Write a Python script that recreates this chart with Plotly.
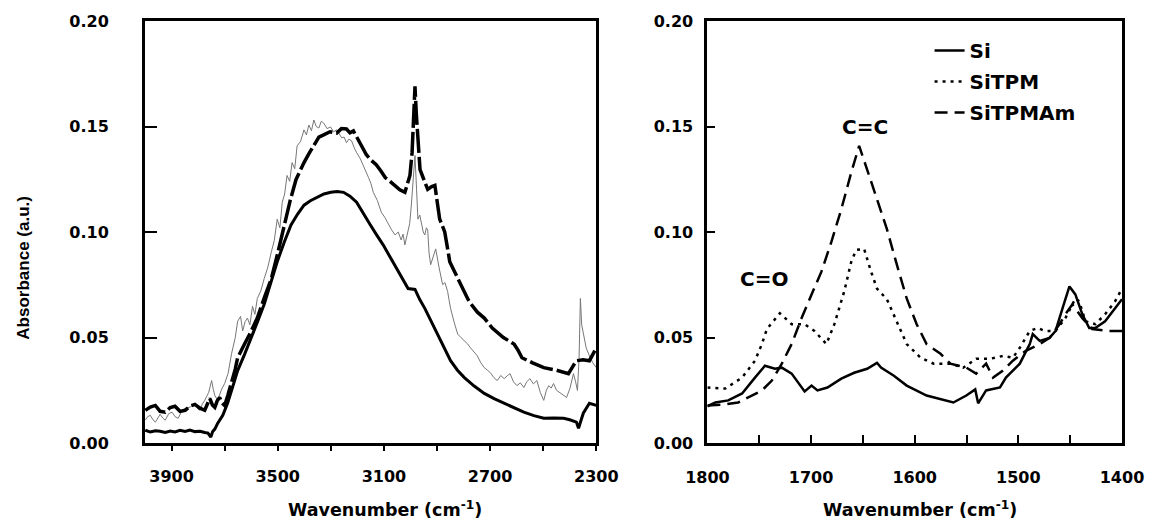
import plotly.graph_objects as go

# ---------------- Left panel data (wavenumber cm-1, absorbance) ----------------
L_SI_X = [3999, 3980, 3961, 3943, 3924, 3905, 3887, 3868, 3849, 3831, 3812, 3793, 3775, 3763,
          3752, 3745, 3737, 3726, 3707, 3689, 3670, 3651, 3625, 3599, 3575, 3551, 3526, 3502,
          3476, 3450, 3425, 3401, 3377, 3353, 3326, 3300, 3276, 3252, 3228, 3203, 3177, 3151,
          3127, 3103, 3073, 3040, 3009, 2983, 2965, 2946, 2922, 2898, 2873, 2849, 2823, 2797,
          2760, 2722, 2685, 2647, 2610, 2573, 2535, 2498, 2460, 2423, 2400, 2375, 2367, 2358,
          2349, 2326, 2300]
L_SI_Y = [0.0061, 0.0052, 0.0058, 0.0056, 0.0050, 0.0057, 0.0052, 0.0060, 0.0055, 0.0061, 0.0054, 0.0056, 0.0050, 0.0047,
          0.0028, 0.0055, 0.0066, 0.0094, 0.0131, 0.0188, 0.0265, 0.0343, 0.0420, 0.0498, 0.0578, 0.0657, 0.0760, 0.0859,
          0.0950, 0.1033, 0.1085, 0.1127, 0.1148, 0.1164, 0.1180, 0.1188, 0.1192, 0.1188, 0.1170, 0.1141, 0.1090, 0.1033,
          0.0985, 0.0939, 0.0873, 0.0800, 0.0732, 0.0728, 0.0680, 0.0638, 0.0578, 0.0516, 0.0450, 0.0390, 0.0345, 0.0310,
          0.0270, 0.0235, 0.0210, 0.0188, 0.0165, 0.0146, 0.0130, 0.0117, 0.0118, 0.0117, 0.0110, 0.0099, 0.0070, 0.0110,
          0.0141, 0.0188, 0.0178]

L_TPM_X = [3999, 3990, 3980, 3970, 3961, 3952, 3943, 3933, 3924, 3910, 3898, 3887, 3875, 3862, 3849, 3830,
           3812, 3800, 3793, 3784, 3775, 3760, 3749, 3743, 3737, 3726, 3713, 3700, 3687, 3674, 3660, 3651, 3640,
           3632, 3623, 3614, 3605, 3595, 3586, 3577, 3564, 3551, 3538, 3524, 3513, 3502, 3492, 3483, 3474, 3465,
           3455, 3446, 3436, 3427, 3414, 3401, 3392, 3383, 3373, 3364, 3355, 3345, 3336, 3327, 3314, 3301, 3290,
           3278, 3268, 3259, 3250, 3241, 3232, 3222, 3212, 3203, 3190, 3177, 3168, 3158, 3149, 3140, 3125, 3110,
           3097, 3084, 3071, 3058, 3046, 3035, 3028, 3021, 3015, 3009, 3003, 2998, 2990, 2983, 2977, 2972, 2965,
           2957, 2952, 2946, 2940, 2935, 2930, 2924, 2915, 2905, 2892, 2879, 2870, 2860, 2855, 2849, 2835, 2822,
           2810, 2797, 2785, 2774, 2760, 2748, 2735, 2722, 2710, 2699, 2686, 2673, 2660, 2647, 2636, 2625, 2612,
           2599, 2586, 2573, 2562, 2550, 2537, 2524, 2511, 2498, 2488, 2479, 2470, 2461, 2450, 2438, 2425, 2412,
           2399, 2386, 2378, 2371, 2365, 2360, 2355, 2349, 2338, 2326, 2313, 2300]
L_TPM_Y = [0.0108, 0.0125, 0.0131, 0.0110, 0.0099, 0.0120, 0.0136, 0.0118, 0.0108, 0.0140, 0.0146, 0.0125, 0.0117, 0.0150, 0.0164, 0.0170,
           0.0188, 0.0160, 0.0155, 0.0185, 0.0202, 0.0240, 0.0296, 0.0255, 0.0225, 0.0202, 0.0250, 0.0282, 0.0330, 0.0423, 0.0500, 0.0577, 0.0600,
           0.0531, 0.0575, 0.0592, 0.0560, 0.0648, 0.0610, 0.0685, 0.0720, 0.0779, 0.0830, 0.0906, 0.0960, 0.1061, 0.1020, 0.1141, 0.1180, 0.1268,
           0.1240, 0.1329, 0.1300, 0.1408, 0.1430, 0.1484, 0.1460, 0.1507, 0.1480, 0.1531, 0.1500, 0.1493, 0.1525, 0.1516, 0.1490, 0.1498, 0.1475,
           0.1484, 0.1460, 0.1446, 0.1450, 0.1423, 0.1440, 0.1432, 0.1400, 0.1376, 0.1350, 0.1315, 0.1290, 0.1258, 0.1230, 0.1188, 0.1150, 0.1094,
           0.1070, 0.1038, 0.1010, 0.0986, 0.1000, 0.0962, 0.0990, 0.0939, 0.0970, 0.1000, 0.1040, 0.1108, 0.1250, 0.1362, 0.1200, 0.1061, 0.1080,
           0.1023, 0.1000, 0.0986, 0.1020, 0.1009, 0.0900, 0.0845, 0.0880, 0.0920, 0.0830, 0.0751, 0.0760, 0.0718, 0.0680, 0.0638, 0.0570, 0.0516,
           0.0500, 0.0484, 0.0470, 0.0451, 0.0430, 0.0413, 0.0380, 0.0357, 0.0345, 0.0333, 0.0310, 0.0296, 0.0320, 0.0305, 0.0318, 0.0329, 0.0290,
           0.0272, 0.0285, 0.0263, 0.0290, 0.0305, 0.0280, 0.0296, 0.0240, 0.0202, 0.0250, 0.0272, 0.0260, 0.0282, 0.0250, 0.0239, 0.0228, 0.0216,
           0.0260, 0.0329, 0.0290, 0.0249, 0.0400, 0.0685, 0.0560, 0.0516, 0.0450, 0.0413, 0.0380, 0.0357]

L_TPMAM_X = [3999, 3980, 3961, 3943, 3924, 3905, 3887, 3868, 3849, 3830, 3812, 3793, 3775, 3765, 3756, 3746, 3737,
             3728, 3719, 3710, 3700, 3687, 3674, 3660, 3651, 3638, 3625, 3600, 3577, 3550, 3524, 3500, 3476, 3453,
             3431, 3416, 3401, 3383, 3364, 3345, 3327, 3303, 3278, 3260, 3241, 3228, 3215, 3190, 3166, 3148, 3129,
             3112, 3095, 3077, 3058, 3040, 3021, 3010, 3002, 2994, 2988, 2983, 2978, 2972, 2964, 2950, 2935, 2920,
             2908, 2899, 2890, 2880, 2871, 2860, 2852, 2837, 2822, 2807, 2792, 2783, 2774, 2748, 2722, 2707, 2692,
             2650, 2610, 2595, 2580, 2540, 2498, 2450, 2405, 2390, 2375, 2350, 2326, 2313, 2300]
L_TPMAM_Y = [0.0155, 0.0170, 0.0178, 0.0150, 0.0146, 0.0168, 0.0174, 0.0150, 0.0155, 0.0175, 0.0183, 0.0165, 0.0155, 0.0190, 0.0211, 0.0180, 0.0169,
             0.0200, 0.0216, 0.0190, 0.0178, 0.0230, 0.0282, 0.0350, 0.0404, 0.0440, 0.0469, 0.0530, 0.0592, 0.0690, 0.0779, 0.0900, 0.1033, 0.1150,
             0.1249, 0.1290, 0.1329, 0.1370, 0.1408, 0.1450, 0.1460, 0.1475, 0.1469, 0.1490, 0.1488, 0.1470, 0.1479, 0.1420, 0.1366, 0.1340, 0.1319,
             0.1290, 0.1258, 0.1240, 0.1221, 0.1200, 0.1188, 0.1230, 0.1268, 0.1376, 0.1550, 0.1690, 0.1560, 0.1423, 0.1296, 0.1250, 0.1202, 0.1215,
             0.1221, 0.1140, 0.1061, 0.1030, 0.1000, 0.0920, 0.0859, 0.0820, 0.0779, 0.0740, 0.0704, 0.0680, 0.0662, 0.0620, 0.0592, 0.0570, 0.0545,
             0.0500, 0.0469, 0.0440, 0.0404, 0.0380, 0.0357, 0.0345, 0.0329, 0.0360, 0.0390, 0.0395, 0.0390, 0.0420, 0.0451]

# ---------------- Right panel data ----------------
R_SI_X = [1800.0, 1792.3, 1779.9, 1766.5, 1754.1, 1744.5, 1734.9, 1728.2, 1718.7, 1706.2, 1699.5, 1693.8, 1684.2,
          1670.8, 1658.4, 1645.9, 1636.4, 1632.5, 1620.1, 1607.7, 1588.5, 1572.3, 1562.7, 1550.2, 1541.6, 1538.8,
          1531.1, 1517.7, 1512.0, 1498.6, 1489.0, 1486.1, 1479.4, 1469.9, 1464.1, 1457.4, 1450.7, 1445.0, 1438.3,
          1431.6, 1425.8, 1416.3, 1406.7, 1400.0]
R_SI_Y = [0.0174, 0.0192, 0.0202, 0.0235, 0.0310, 0.0366, 0.0352, 0.0357, 0.0329, 0.0244, 0.0272, 0.0249, 0.0263,
          0.0305, 0.0333, 0.0352, 0.0380, 0.0357, 0.0319, 0.0272, 0.0225, 0.0202, 0.0192, 0.0225, 0.0254, 0.0188,
          0.0249, 0.0263, 0.0310, 0.0376, 0.0469, 0.0516, 0.0484, 0.0498, 0.0531, 0.0638, 0.0742, 0.0704, 0.0610,
          0.0545, 0.0545, 0.0577, 0.0638, 0.0681]

R_TPM_X = [1800.0, 1782.8, 1766.5, 1754.1, 1747.4, 1742.6, 1730.1, 1718.7, 1706.2, 1696.7, 1685.2, 1677.5, 1668.0,
           1661.2, 1656.5, 1648.8, 1642.1, 1636.4, 1626.8, 1617.2, 1607.7, 1594.3, 1581.8, 1565.6, 1553.1, 1540.7,
           1527.3, 1514.8, 1505.3, 1498.6, 1489.0, 1481.3, 1474.6, 1464.1, 1454.6, 1445.0, 1441.2, 1435.4, 1425.8,
           1416.3, 1406.7, 1400.0]
R_TPM_Y = [0.0263, 0.0258, 0.0310, 0.0390, 0.0469, 0.0540, 0.0615, 0.0563, 0.0563, 0.0531, 0.0469, 0.0563, 0.0718,
           0.0859, 0.0915, 0.0920, 0.0812, 0.0732, 0.0681, 0.0577, 0.0469, 0.0404, 0.0376, 0.0376, 0.0357, 0.0399,
           0.0399, 0.0413, 0.0404, 0.0451, 0.0531, 0.0545, 0.0531, 0.0531, 0.0592, 0.0685, 0.0671, 0.0577, 0.0563,
           0.0610, 0.0671, 0.0732]

R_TPMAM_X = [1800.0, 1782.8, 1770.3, 1760.8, 1747.4, 1737.8, 1728.2, 1718.7, 1709.1, 1699.5, 1690.0, 1680.4, 1670.8,
             1661.2, 1653.6, 1645.9, 1636.4, 1626.8, 1617.2, 1607.7, 1598.1, 1588.5, 1575.1, 1565.6, 1550.2, 1540.7,
             1531.1, 1524.4, 1514.8, 1505.3, 1492.8, 1479.4, 1469.9, 1460.3, 1454.6, 1447.9, 1438.3, 1428.7, 1412.5,
             1400.0]
R_TPMAM_Y = [0.0178, 0.0183, 0.0192, 0.0216, 0.0249, 0.0296, 0.0376, 0.0469, 0.0592, 0.0704, 0.0812, 0.0953, 0.1108,
             0.1282, 0.1408, 0.1296, 0.1155, 0.1014, 0.0845, 0.0685, 0.0563, 0.0469, 0.0423, 0.0376, 0.0357, 0.0329,
             0.0376, 0.0310, 0.0343, 0.0390, 0.0437, 0.0469, 0.0498, 0.0563, 0.0610, 0.0657, 0.0592, 0.0540, 0.0531,
             0.0531]

SERIES_NAMES = ["Si", "SiTPM", "SiTPMAm"]
LEFT_TICKS = [3900, 3500, 3100, 2700, 2300]
RIGHT_TICKS = [1800, 1700, 1600, 1500, 1400]
Y_TICKS = [0.00, 0.05, 0.10, 0.15, 0.20]

HFONT = "DejaVu Sans"
fig = go.Figure()

# left panel
fig.add_trace(go.Scatter(x=L_TPM_X, y=L_TPM_Y, xaxis="x", yaxis="y", mode="lines",
                         line=dict(color="#777777", width=1), showlegend=False))
fig.add_trace(go.Scatter(x=L_SI_X, y=L_SI_Y, xaxis="x", yaxis="y", mode="lines",
                         line=dict(color="black", width=3), showlegend=False))
fig.add_trace(go.Scatter(x=L_TPMAM_X, y=L_TPMAM_Y, xaxis="x", yaxis="y", mode="lines",
                         line=dict(color="black", width=3.5, dash="24px,4px"), showlegend=False))

# right panel
fig.add_trace(go.Scatter(x=R_SI_X, y=R_SI_Y, xaxis="x2", yaxis="y2", mode="lines", name=SERIES_NAMES[0],
                         legendgroup="g1", line=dict(color="black", width=2.5)))
fig.add_trace(go.Scatter(x=R_TPM_X, y=R_TPM_Y, xaxis="x2", yaxis="y2", mode="lines", name=SERIES_NAMES[1],
                         legendgroup="g2", line=dict(color="black", width=2.5, dash="3px,5px")))
fig.add_trace(go.Scatter(x=R_TPMAM_X, y=R_TPMAM_Y, xaxis="x2", yaxis="y2", mode="lines", name=SERIES_NAMES[2],
                         legendgroup="g3", line=dict(color="black", width=2.5, dash="13px,7px")))

tickfont = dict(family=HFONT, size=16, color="black", weight="bold")
common_axis = dict(showline=True, linewidth=3, linecolor="black", mirror=True, showgrid=False,
                   zeroline=False, tickcolor="black", tickwidth=2, tickfont=tickfont)

fig.update_layout(
    width=1156, height=526,
    margin=dict(l=145, r=26, t=17, b=83),
    paper_bgcolor="white", plot_bgcolor="white",
    xaxis=dict(domain=[0, 455 / 985], range=[4000, 2300], anchor="y",
               tickvals=LEFT_TICKS, ticks="outside", ticklen=5, ticklabelstandoff=12,
               minor=dict(dtick=200, tick0=3900, ticks="outside", ticklen=5, tickwidth=2, tickcolor="black"),
               **common_axis),
    yaxis=dict(domain=[0, 1], range=[0, 0.2], anchor="x", tickvals=Y_TICKS, tickformat=".2f",
               ticks="inside", ticklen=12, ticklabelstandoff=30, **common_axis),
    xaxis2=dict(domain=[567 / 985, 1], range=[1800, 1400], anchor="y2",
                tickvals=RIGHT_TICKS, ticks="inside", ticklen=8, ticklabelstandoff=18,
                minor=dict(dtick=50, tick0=1800, ticks="inside", ticklen=8, tickwidth=2, tickcolor="black"),
                **common_axis),
    yaxis2=dict(domain=[0, 1], range=[0, 0.2], anchor="x2", tickvals=Y_TICKS, tickformat=".2f",
                ticks="inside", ticklen=8, ticklabelstandoff=8, **common_axis),
    legend=dict(x=(936 - 145) / 985, y=(443 - 27) / 426, xanchor="left", yanchor="top",
                font=dict(family=HFONT, size=20, color="black", weight="bold"),
                bgcolor="rgba(0,0,0,0)", tracegroupgap=2, itemwidth=30),
    annotations=[
        dict(text="Absorbance (a.u.)", xref="paper", yref="paper", x=(23 - 145) / 985, y=(443 - 266) / 426,
             textangle=-90, showarrow=False, xanchor="center", yanchor="middle",
             font=dict(family="Liberation Sans", size=17, color="black", weight="bold")),
        dict(text="Wavenumber (cm<sup>-1</sup>)", xref="paper", yref="paper", x=(387 - 145) / 985,
             y=-(510 - 443) / 426, showarrow=False, xanchor="center", yanchor="middle",
             font=dict(family=HFONT, size=17.5, color="black", weight="bold")),
        dict(text="Wavenumber (cm<sup>-1</sup>)", xref="paper", yref="paper", x=(926 - 145) / 985,
             y=-(510 - 443) / 426, showarrow=False, xanchor="center", yanchor="middle",
             font=dict(family=HFONT, size=17.5, color="black", weight="bold")),
        dict(text="C=C", xref="x2", yref="y2", x=1648, y=0.150, showarrow=False,
             font=dict(family=HFONT, size=20, color="black", weight="bold")),
        dict(text="C=O", xref="x2", yref="y2", x=1745, y=0.0775, showarrow=False,
             font=dict(family=HFONT, size=20, color="black", weight="bold")),
    ],
)

fig.write_html("out.html")
